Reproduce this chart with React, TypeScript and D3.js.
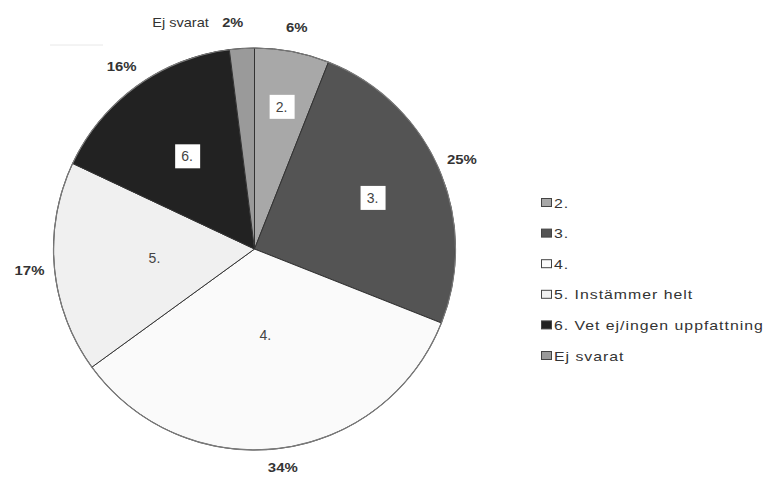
import React from "react";
import * as d3 from "d3";

// Answer categories, clockwise from 12 o'clock
const categories = ["2.", "3.", "4.", "5.", "6.", "Ej svarat"];
const legendLabels = ["2.", "3.", "4.", "5. Instämmer helt", "6. Vet ej/ingen uppfattning", "Ej svarat"];
const percents = [6, 25, 34, 17, 16, 2];
const fills = ["#a8a8a8", "#545454", "#fafafa", "#f0f0f0", "#222222", "#9a9a9a"];

const W = 769;
const H = 477;
const cx = 254.5;
const cy = 249;
const R = 201;
const outerLabelR = 226;
const maxLabelY = 218; // keeps the bottom percentage inside the frame
// distance of the in-slice category labels from the centre, as a share of R
const innerLabelShare = [0.72, 0.64, 0.43, 0.5, 0.57, 0.6];
const boxed = [true, true, false, false, true, false];

export default function App() {
  const pie = d3
    .pie<number>()
    .sort(null)
    .value((d) => d)
    .startAngle(0)
    .endAngle(2 * Math.PI);
  const arcs = pie(percents);
  const arcGen = d3.arc<d3.PieArcDatum<number>>().innerRadius(0).outerRadius(R);
  const font = "'Liberation Sans', Arial, sans-serif";

  const polar = (a: number, r: number) => [Math.sin(a) * r, -Math.cos(a) * r];

  return (
    <svg width={W} height={H} style={{ position: "absolute", left: 0, top: 0, background: "#fff" }} fontFamily={font}>
      <line x1={50} x2={103} y1={45} y2={45} stroke="#e8e8e8" strokeWidth={1} />
      <g transform={`translate(${cx},${cy})`}>
        {arcs.map((a, i) => (
          <path key={i} d={arcGen(a) || ""} fill={fills[i]} stroke="#333" strokeWidth={1} />
        ))}
        <circle r={R} fill="none" stroke="#7a7a7a" strokeWidth={1.2} />
        {arcs.map((a, i) => {
          const mid = (a.startAngle + a.endAngle) / 2;
          const [x, yRaw] = polar(mid, outerLabelR);
          const y = Math.min(yRaw, maxLabelY);
          if (categories[i] === "Ej svarat") {
            return (
              <g key={"o" + i} transform={`translate(${x + 3},${y + 4}) scale(1.12,1)`}>
                <text textAnchor="end" fontSize={13} fill="#333">
                  <tspan>Ej svarat</tspan>
                  <tspan dx={12} fontWeight="bold">{percents[i]}%</tspan>
                </text>
              </g>
            );
          }
          return (
            <g key={"o" + i} transform={`translate(${x},${y + 4.5}) scale(1.15,1)`}>
              <text textAnchor="middle" fontSize={13} fontWeight="bold" fill="#333">
                {percents[i]}%
              </text>
            </g>
          );
        })}
        {arcs.slice(0, 5).map((a, i) => {
          const mid = (a.startAngle + a.endAngle) / 2;
          const [x, y] = polar(mid, R * innerLabelShare[i]);
          return (
            <g key={"i" + i} transform={`translate(${x},${y})`}>
              {boxed[i] && <rect x={-12} y={-12} width={25} height={24} fill="#fff" />}
              <text x={0} y={5} textAnchor="middle" fontSize={14} fill="#444">
                {categories[i]}
              </text>
            </g>
          );
        })}
      </g>
      <g transform="translate(541,203)">
        {legendLabels.map((l, i) => (
          <g key={l} transform={`translate(0,${i * 30.6})`}>
            <rect x={0.5} y={-4.5} width={10} height={8} fill={fills[i]} stroke="#444" strokeWidth={1} />
            <g transform="translate(13,4.5) scale(1.22,1)">
              <text fontSize={13} fill="#333" letterSpacing={0.8}>
                {l}
              </text>
            </g>
          </g>
        ))}
      </g>
    </svg>
  );
}
